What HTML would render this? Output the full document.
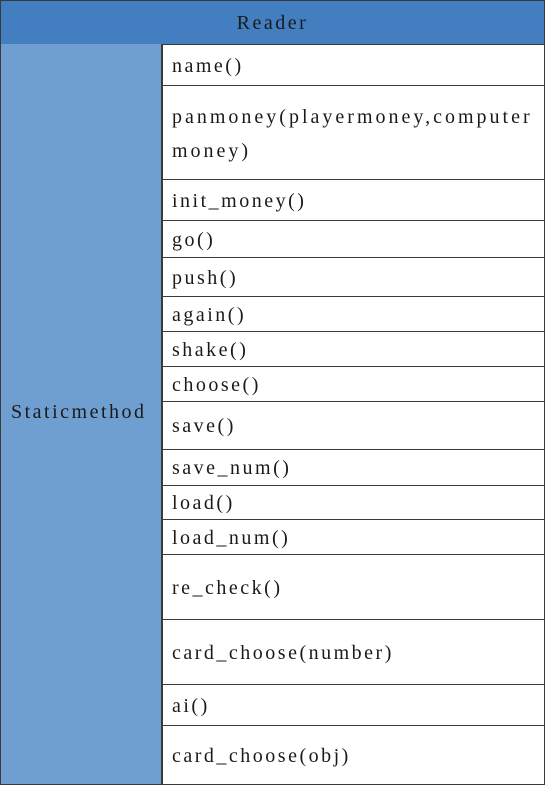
<!DOCTYPE html>
<html><head><style>
body{margin:0;width:546px;height:786px;background:#fff;position:relative;overflow:hidden;font-family:"Liberation Serif",serif;font-size:20px;letter-spacing:2.5px;color:#1a1a1a}
.box{position:absolute;box-sizing:border-box}
.hd{left:0;top:0;width:545px;height:45px;background:#427ec0;border:1px solid #3a3a3a;text-align:center;line-height:44px}
.lc{left:0;top:44px;width:162px;height:741px;background:#6f9ed0;border:1px solid #3a3a3a;border-top:none}
.lc span{position:absolute;left:10px;top:357px}
.r{left:161px;width:384px;border-right:1px solid #3a3a3a;border-bottom:1px solid #3a3a3a;border-left:2px solid #3a3a3a;padding-left:9px;padding-top:3px;display:flex;align-items:center;white-space:nowrap}
.w{letter-spacing:3px}
</style></head><body>
<div class="box hd">Reader</div>
<div class="box lc"><span>Staticmethod</span></div>
<div class="box r" style="top:44px;height:42px">name()</div>
<div class="box r w" style="top:85px;height:95px;line-height:34px">panmoney(playermoney,computer<br>money)</div>
<div class="box r" style="top:179px;height:42px">init_money()</div>
<div class="box r" style="top:220px;height:38px">go()</div>
<div class="box r" style="top:257px;height:40px">push()</div>
<div class="box r" style="top:296px;height:36px">again()</div>
<div class="box r" style="top:331px;height:36px">shake()</div>
<div class="box r" style="top:366px;height:36px">choose()</div>
<div class="box r" style="top:401px;height:49px">save()</div>
<div class="box r" style="top:449px;height:37px">save_num()</div>
<div class="box r" style="top:485px;height:35px">load()</div>
<div class="box r" style="top:519px;height:36px">load_num()</div>
<div class="box r" style="top:554px;height:66px">re_check()</div>
<div class="box r" style="top:619px;height:66px">card_choose(number)</div>
<div class="box r" style="top:684px;height:42px">ai()</div>
<div class="box r" style="top:725px;height:60px">card_choose(obj)</div>
</body></html>
